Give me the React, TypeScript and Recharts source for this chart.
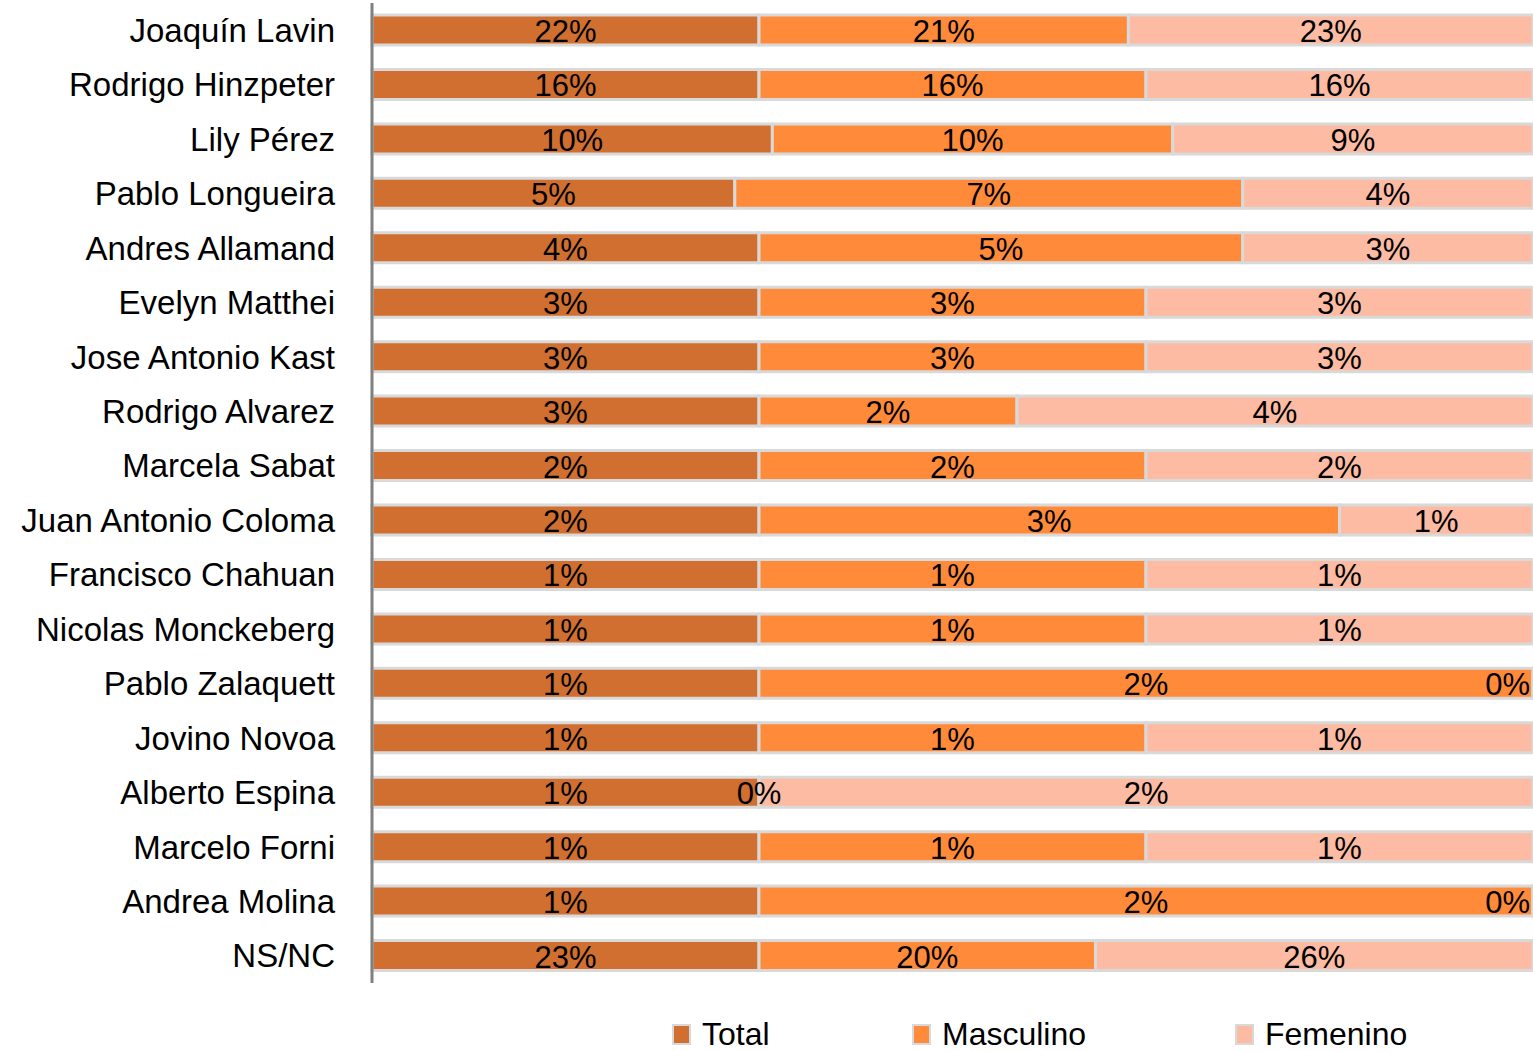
import React from "react";
import { BarChart, Bar, XAxis, YAxis, Legend, LabelList } from "recharts";

const names = [
  "Joaquín Lavin",
  "Rodrigo Hinzpeter",
  "Lily Pérez",
  "Pablo Longueira",
  "Andres Allamand",
  "Evelyn Matthei",
  "Jose Antonio Kast",
  "Rodrigo Alvarez",
  "Marcela Sabat",
  "Juan Antonio Coloma",
  "Francisco Chahuan",
  "Nicolas Monckeberg",
  "Pablo Zalaquett",
  "Jovino Novoa",
  "Alberto Espina",
  "Marcelo Forni",
  "Andrea Molina",
  "NS/NC",
];
const total = [22, 16, 10, 5, 4, 3, 3, 3, 2, 2, 1, 1, 1, 1, 1, 1, 1, 23];
const masculino = [21, 16, 10, 7, 5, 3, 3, 2, 2, 3, 1, 1, 2, 1, 0, 1, 2, 20];
const femenino = [23, 16, 9, 4, 3, 3, 3, 4, 2, 1, 1, 1, 0, 1, 2, 1, 0, 26];

const series = [
  { key: "Total", values: total, color: "#D06F2F", width: 240 },
  { key: "Masculino", values: masculino, color: "#FF8A3A", width: 323 },
  { key: "Femenino", values: femenino, color: "#FCBBA2", width: 200 },
];

// zero values get a tiny width so their "0%" label is still drawn
const data = names.map((name, i) => {
  const row: any = { name };
  series.forEach((s) => {
    row[s.key] = Math.max(s.values[i], 0.0005);
    row[s.key + "_label"] = s.values[i];
  });
  return row;
});

const FONT = "'Liberation Sans', Arial, sans-serif";
const LABEL_SIZE = 31;
const RIGHT_EDGE = 1533;

const SegmentLabel = (props: any) => {
  const { x, y, width, height, value } = props;
  const text = `${value}%`;
  let cx = Number(x) + Number(width) / 2;
  const half = (((text.length - 1) * 0.556 + 0.889) * LABEL_SIZE) / 2;
  if (cx + half > RIGHT_EDGE - 3) cx = RIGHT_EDGE - 3 - half;
  return (
    <text
      x={cx}
      y={Number(y) + Number(height) / 2 + 12}
      textAnchor="middle"
      fontSize={LABEL_SIZE}
      fontFamily={FONT}
      fill="#000"
    >
      {text}
    </text>
  );
};

const LegendContent = () => (
  <div
    style={{
      display: "flex",
      fontFamily: FONT,
      fontSize: 32,
      lineHeight: "34px",
      color: "#000",
    }}
  >
    {series.map((s) => (
      <div key={s.key} style={{ display: "flex", alignItems: "center", width: s.width }}>
        <span
          style={{
            display: "inline-block",
            width: 15,
            height: 17,
            background: s.color,
            border: "2px solid #d9d9d9",
            marginRight: 11,
          }}
        />
        <span>{s.key}</span>
      </div>
    ))}
  </div>
);

export default function App() {
  return (
    <div style={{ position: "absolute", left: 0, top: 0 }}>
      <BarChart
        width={1533}
        height={1051}
        data={data}
        layout="vertical"
        stackOffset="expand"
        margin={{ top: 3, right: 0, left: 0, bottom: 34 }}
      >
        <XAxis type="number" hide domain={[0, 1]} />
        <YAxis
          type="category"
          dataKey="name"
          width={372}
          axisLine={{ stroke: "#808080", strokeWidth: 3 }}
          tickLine={false}
          tickSize={0}
          tickMargin={37}
          interval={0}
          tick={{ fontSize: 33, fontFamily: FONT, fill: "#000" }}
        />
        {series.map((s) => (
          <Bar
            key={s.key}
            dataKey={s.key}
            stackId="a"
            fill={s.color}
            stroke="#d9d9d9"
            strokeWidth={3}
            barSize={30}
            isAnimationActive={false}
          >
            <LabelList dataKey={s.key + "_label"} content={SegmentLabel} />
          </Bar>
        ))}
        <Legend
          content={LegendContent}
          wrapperStyle={{ left: 672, top: 1017, width: "auto" }}
        />
      </BarChart>
    </div>
  );
}
